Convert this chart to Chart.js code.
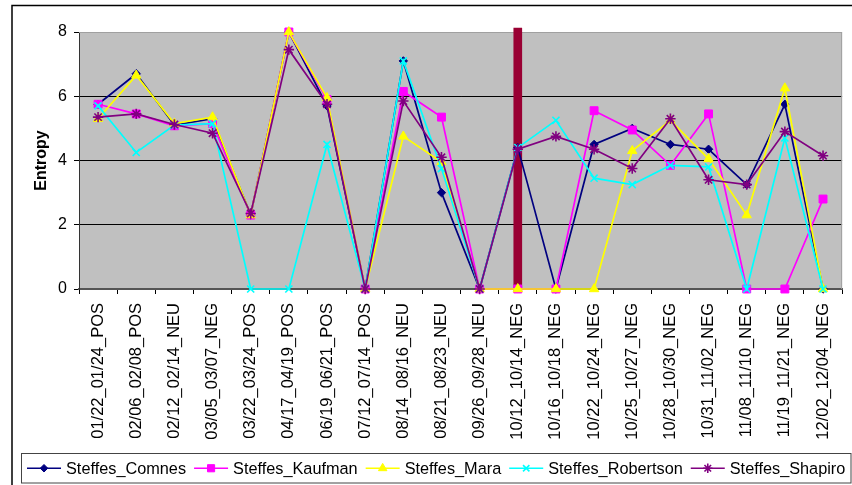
<!DOCTYPE html>
<html>
<head>
<meta charset="utf-8">
<script src="https://cdn.jsdelivr.net/npm/chart.js@4/dist/chart.umd.min.js"></script>
<style>
  html, body { margin: 0; padding: 0; background: #fff; }
  #wrap { width: 852px; height: 485px; position: relative; }
</style>
</head>
<body>
<div id="wrap"><canvas id="c" width="852" height="485"></canvas></div>
<script>
// Periods (date range + sentiment class)
const categories = [
  "01/22_01/24_POS", "02/06_02/08_POS", "02/12_02/14_NEU", "03/05_03/07_NEG",
  "03/22_03/24_POS", "04/17_04/19_POS", "06/19_06/21_POS", "07/12_07/14_POS",
  "08/14_08/16_NEU", "08/21_08/23_NEU", "09/26_09/28_NEU", "10/12_10/14_NEG",
  "10/16_10/18_NEG", "10/22_10/24_NEG", "10/25_10/27_NEG", "10/28_10/30_NEG",
  "10/31_11/02_NEG", "11/08_11/10_NEG", "11/19_11/21_NEG", "12/02_12/04_NEG"
];

// Entropy per speaker pair
const comnes     = [5.75, 6.7, 5.1, 5.3, 2.3, 8.0, 5.7, 0, 7.1, 3.0, 0, 4.4, 0, 4.5, 5.0, 4.5, 4.35, 3.25, 5.75, 0];
const kaufman    = [5.75, 5.45, 5.08, 5.15, 2.3, 8.0, 5.9, 0, 6.15, 5.35, 0, 0, 0, 5.55, 4.95, 3.85, 5.45, 0, 0, 2.8];
const mara       = [5.3, 6.65, 5.15, 5.35, 2.3, 8.0, 5.95, 0, 4.75, 3.95, 0, 0, 0, 0, 4.3, 5.25, 4.05, 2.3, 6.25, 0];
const robertson  = [5.7, 4.25, 5.1, 5.15, 0, 0, 4.5, 0, 7.1, 3.75, 0, 4.4, 5.25, 3.45, 3.25, 3.85, 3.8, 0, 4.7, 0];
const shapiro    = [5.35, 5.45, 5.12, 4.85, 2.35, 7.45, 5.75, 0, 5.85, 4.1, 0, 4.35, 4.75, 4.35, 3.75, 5.3, 3.4, 3.25, 4.9, 4.15];

// Event marker bar
const eventBar = [null, null, null, null, null, null, null, null, null, null, null, 8.12,
                  null, null, null, null, null, null, null, null];

const seriesNames = ["Steffes_Comnes", "Steffes_Kaufman", "Steffes_Mara", "Steffes_Robertson", "Steffes_Shapiro"];
const yTicks = [0, 2, 4, 6, 8];

const FONT = "'Liberation Sans', Arial, sans-serif";

const styles = [
  { color: "#000080", point: "rectRot", radius: 4.2 },
  { color: "#FF00FF", point: "rect", radius: 5.6 },
  { color: "#FFFF00", point: "triangle", radius: 5.4 },
  { color: "#00FFFF", point: "crossRot", radius: 5 },
  { color: "#800080", point: "star", radius: 5.2 }
];
const seriesData = [comnes, kaufman, mara, robertson, shapiro];

const lineSets = seriesData.map((d, i) => {
  const s = styles[i];
  const open = s.point === "crossRot" || s.point === "star";
  return {
    type: "line",
    label: seriesNames[i],
    data: d,
    borderColor: s.color,
    backgroundColor: s.color,
    borderWidth: 1.7,
    pointStyle: s.point,
    pointRadius: s.radius,
    pointBorderColor: s.color,
    pointBackgroundColor: s.color,
    pointBorderWidth: open ? 1.6 : 1,
    tension: 0,
    clip: false,
    order: 5 - i
  };
});

const barSet = {
  type: "bar",
  label: "event",
  data: eventBar,
  backgroundColor: "#990033",
  borderWidth: 0,
  barThickness: 8,
  clip: false,
  order: 10
};

// Plot background, outer frame and plot border
const framePlugin = {
  id: "frame",
  beforeDraw(chart) {
    const { ctx, chartArea: a } = chart;
    ctx.save();
    ctx.fillStyle = "#ffffff";
    ctx.fillRect(0, 0, chart.width, chart.height);
    ctx.fillStyle = "#C0C0C0";
    ctx.fillRect(a.left, a.top, a.right - a.left, a.bottom - a.top);
    ctx.strokeStyle = "#000";
    ctx.lineWidth = 1.5;
    ctx.beginPath();
    ctx.moveTo(12, chart.height);
    ctx.lineTo(12, 5.5);
    ctx.lineTo(chart.width, 5.5);
    ctx.stroke();
    ctx.restore();
  },
  beforeDatasetsDraw(chart) {
    const { ctx, chartArea: a } = chart;
    ctx.save();
    ctx.strokeStyle = "#a0a0a0";
    ctx.lineWidth = 1;
    ctx.beginPath();
    ctx.moveTo(a.left, a.top + 0.5);
    ctx.lineTo(a.right - 0.5, a.top + 0.5);
    ctx.lineTo(a.right - 0.5, a.bottom);
    ctx.stroke();
    ctx.restore();
  }
};

// Boxed legend with line + marker samples
const legendPlugin = {
  id: "boxLegend",
  afterDraw(chart) {
    const { ctx } = chart;
    const boxTop = 453.5, boxBottom = 483, boxLeft = 21.5, boxRight = 851;
    const cy = (boxTop + boxBottom) / 2;
    ctx.save();
    ctx.strokeStyle = "#444";
    ctx.lineWidth = 1;
    ctx.strokeRect(boxLeft, boxTop, boxRight - boxLeft, boxBottom - boxTop);
    ctx.font = "16.3px " + FONT;
    ctx.textBaseline = "middle";
    ctx.textAlign = "left";
    let x = 27;
    const lineLen = 34, gapText = 5, gapAfter = 8;
    lineSets.forEach((ds) => {
      ctx.strokeStyle = ds.borderColor;
      ctx.lineWidth = 1.7;
      ctx.beginPath();
      ctx.moveTo(x, cy);
      ctx.lineTo(x + lineLen, cy);
      ctx.stroke();
      const opts = {
        pointStyle: ds.pointStyle,
        radius: ds.pointRadius * 0.9,
        rotation: 0,
        borderWidth: ds.pointBorderWidth
      };
      ctx.fillStyle = ds.pointBackgroundColor;
      ctx.strokeStyle = ds.pointBorderColor;
      ctx.lineWidth = ds.pointBorderWidth;
      if (Chart.helpers && Chart.helpers.drawPoint) {
        Chart.helpers.drawPoint(ctx, opts, x + lineLen / 2, cy);
      }
      ctx.fillStyle = "#000";
      const tx = x + lineLen + gapText;
      ctx.fillText(ds.label, tx, cy + 1);
      x = tx + ctx.measureText(ds.label).width + gapAfter;
    });
    ctx.restore();
  }
};

new Chart(document.getElementById("c"), {
  type: "line",
  data: {
    labels: categories,
    datasets: [...lineSets, barSet]
  },
  options: {
    responsive: false,
    animation: false,
    devicePixelRatio: 1,
    layout: { padding: { top: 32, right: 1, left: 0, bottom: 0 } },
    plugins: {
      legend: { display: false },
      tooltip: { enabled: false }
    },
    scales: {
      x: {
        type: "category",
        offset: true,
        grid: {
          offset: true,
          drawOnChartArea: false,
          drawTicks: true,
          tickLength: 5,
          color: "#000"
        },
        border: { display: true, color: "#555", width: 2 },
        ticks: {
          autoSkip: false,
          minRotation: 90,
          maxRotation: 90,
          padding: 9,
          color: "#000",
          font: { family: FONT, size: 16.5 }
        },
        afterFit(scale) { scale.height = 196; }
      },
      y: {
        min: 0,
        max: 8,
        afterBuildTicks(scale) { scale.ticks = yTicks.map(v => ({ value: v })); },
        grid: {
          color: (c) => c.tick && c.tick.value === 8 ? "#a0a0a0" : (c.tick && c.tick.value === 0 ? "rgba(0,0,0,0)" : "#000"),
          tickColor: "#000",
          drawTicks: true,
          tickLength: 5,
          lineWidth: 1
        },
        border: { display: true, color: "#333", width: 1 },
        ticks: {
          padding: 7,
          color: "#000",
          font: { family: FONT, size: 16 }
        },
        title: {
          display: true,
          text: "Entropy",
          color: "#000",
          font: { family: FONT, size: 16, weight: "bold" },
          padding: { top: 32, bottom: 0 }
        },
        afterFit(scale) { scale.width = 79; }
      }
    }
  },
  plugins: [framePlugin, legendPlugin]
});
</script>
</body>
</html>
